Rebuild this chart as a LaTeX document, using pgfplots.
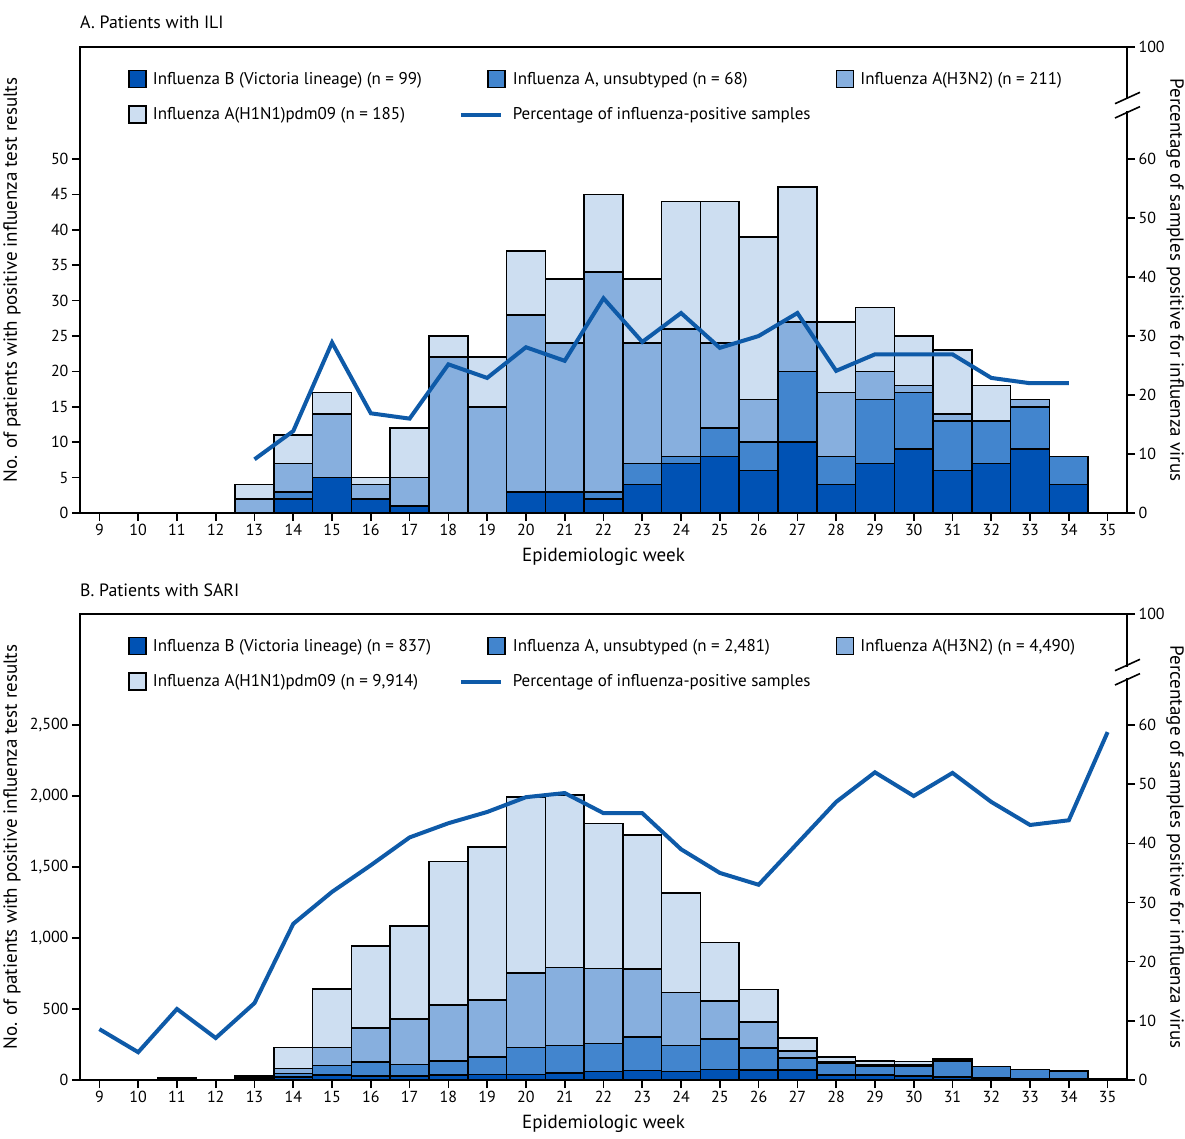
\documentclass[border=0pt]{standalone}
\usepackage{pgfplots}
\pgfplotsset{compat=1.18}
\usepackage{pgfplotstable}
\usepackage{fontspec}
\setmainfont{PT Sans}

\definecolor{cB}{HTML}{0052B4}
\definecolor{cU}{HTML}{4285CE}
\definecolor{cH}{HTML}{87AFDE}
\definecolor{cP}{HTML}{CDDEF1}
\definecolor{cL}{HTML}{0E5AA8}

\pgfplotstableread{
week B U H3 H1 pct
13 0 0 2 2 9.1
14 2 1 4 4 13.9
15 5 0 9 3 28.9
16 2 0 2 1 16.9
17 1 0 4 7 16.0
18 0 0 22 3 25.2
19 0 0 15 7 22.9
20 3 0 25 9 28.1
21 3 0 21 9 25.8
22 2 1 31 11 36.4
23 4 3 17 9 29.0
24 7 1 18 18 33.9
25 8 4 12 20 28.0
26 6 4 6 23 30.0
27 10 10 7 19 33.9
28 4 4 9 10 24.1
29 7 9 4 9 26.9
30 9 8 1 7 26.9
31 6 7 1 9 26.9
32 7 6 0 5 22.9
33 9 6 1 0 22.0
34 4 4 0 0 22.0
}\ili

\pgfplotstableread{
week B U H3 H1 pct
9 2 1 0 0 8.6
10 1 1 0 0 4.7
11 10 4 1 1 12.0
12 2 1 0 0 7.1
13 12 8 5 5 13.0
14 20 25 35 150 26.4
15 35 66 129 411 31.8
16 30 95 243 575 36.3
17 30 78 321 657 41.0
18 35 99 396 1010 43.4
19 40 124 401 1078 45.3
20 40 190 523 1239 47.8
21 49 193 551 1213 48.5
22 61 197 526 1023 45.1
23 66 239 476 946 45.1
24 61 181 375 699 39.0
25 73 216 269 411 35.0
26 70 155 183 228 33.0
27 70 83 51 90 40.0
28 35 82 10 37 47.0
29 34 65 5 30 52.0
30 30 69 5 25 48.0
31 23 106 5 15 51.9
32 15 79 0 0 47.0
33 10 65 0 0 43.1
34 7 56 0 0 43.9
35 3 4 0 0 58.8
}\sari

\pgfplotsset{
  barbox/.style={legend image code/.code={%
      \path (-27pt,-8.5pt) (21pt,8.5pt);
      \draw[##1,draw=black,line width=1.5pt] (0pt,-8.5pt) rectangle (17pt,8.5pt);}},
  linebox/.style={legend image code/.code={%
      \path (-27pt,-8.5pt) (21pt,8.5pt);
      \draw[##1] (-27pt,0pt) -- (13pt,0pt);}},
  panel/.style={
    scale only axis, width=1047pt, height=466pt,
    xmin=8.5, xmax=35.5,
    axis line style={line width=1.6pt},
    every tick/.style={line width=1.6pt, black},
    major tick length=8pt,
    tick align=outside,
    tick label style={font=\fontsize{16}{19}\selectfont},
    /pgf/number format/assume math mode=true,
    label style={font=\fontsize{19}{22}\selectfont},
  },
  leftpanel/.style={panel,
    xtick={9,...,35}, xtick pos=bottom, ytick pos=left,
    ybar stacked, bar width=1, bar shift=0pt,
    xlabel={Epidemiologic week},
    x label style={at={(axis description cs:0.5,-0.0944)}, anchor=center},
    ylabel={No. of patients with positive influenza test results},
    y label style={at={(axis description cs:-0.0649,0.5)}, anchor=center},
    legend columns=3, legend cell align=left,
    legend style={at={(axis description cs:0.0201,0.952)}, anchor=north west,
       draw=none, fill=none, inner sep=0pt,
       font=\fontsize{17}{20}\selectfont,
       /tikz/column sep=0pt, /tikz/row sep=16pt,
       nodes={inner sep=2pt}},
  },
  rightpanel/.style={panel,
    axis x line=none, axis y line*=right,
    ylabel={Percentage of samples positive for influenza virus},
    y label style={at={(axis description cs:1.0459,0.5)}, anchor=center, rotate=180},
  },
  bars/.style={draw=black, line width=1.6pt, barbox},
}

\begin{document}
\begin{tikzpicture}
\path[use as bounding box] (0pt,0pt) rectangle (1185pt,-1139pt);

% ---------------- Panel A ----------------
\node[anchor=west, inner sep=0pt, font=\fontsize{17.8}{21}\selectfont] at (80pt,-22pt) {A. Patients with ILI};
\begin{axis}[leftpanel, at={(80pt,-513pt)}, anchor=south west,
  ymin=0, ymax=65.8, ytick={0,5,...,50}]
\addplot[bars, fill=cB] table[x=week,y=B] {\ili};
\addlegendentry{\makebox[304pt][l]{Influenza B (Victoria lineage) (n = 99)}}
\addplot[bars, fill=cU] table[x=week,y=U] {\ili};
\addlegendentry{\makebox[294pt][l]{Influenza A, unsubtyped (n = 68)}}
\addplot[bars, fill=cH] table[x=week,y=H3] {\ili};
\addlegendentry{Influenza A(H3N2) (n = 211)}
\addplot[bars, fill=cP] table[x=week,y=H1] {\ili};
\addlegendentry{\makebox[304pt][l]{Influenza A(H1N1)pdm09 (n = 185)}}
\addlegendimage{cL, line width=4pt, linebox}
\addlegendentry{\makebox[294pt][l]{Percentage of influenza-positive samples}}
\end{axis}
\begin{axis}[rightpanel, at={(80pt,-513pt)}, anchor=south west,
  ymin=0, ymax=79.0, ytick={0,10,...,60,79}, yticklabels={0,10,20,30,40,50,60,100}]
\addplot[cL, line width=4pt, no markers] table[x=week,y=pct] {\ili};
\end{axis}
% axis break
\fill[white] (1122pt,-99.5pt) rectangle (1132pt,-111.2pt);
\draw[line width=1.6pt] (1115pt,-103.7pt) -- (1140pt,-92.3pt);
\draw[line width=1.6pt] (1115pt,-118pt) -- (1140pt,-106.6pt);

% ---------------- Panel B ----------------
\node[anchor=west, inner sep=0pt, font=\fontsize{17.8}{21}\selectfont] at (80pt,-590pt) {B. Patients with SARI};
\begin{axis}[leftpanel, at={(80pt,-1080pt)}, anchor=south west,
  ymin=0, ymax=3281.7, ytick={0,500,...,2500}, scaled y ticks=false,
  yticklabel style={/pgf/number format/.cd, 1000 sep={,}}]
\addplot[bars, fill=cB] table[x=week,y=B] {\sari};
\addlegendentry{\makebox[304pt][l]{Influenza B (Victoria lineage) (n = 837)}}
\addplot[bars, fill=cU] table[x=week,y=U] {\sari};
\addlegendentry{\makebox[294pt][l]{Influenza A, unsubtyped (n = 2,481)}}
\addplot[bars, fill=cH] table[x=week,y=H3] {\sari};
\addlegendentry{Influenza A(H3N2) (n = 4,490)}
\addplot[bars, fill=cP] table[x=week,y=H1] {\sari};
\addlegendentry{\makebox[304pt][l]{Influenza A(H1N1)pdm09 (n = 9,914)}}
\addlegendimage{cL, line width=4pt, linebox}
\addlegendentry{\makebox[294pt][l]{Percentage of influenza-positive samples}}
\end{axis}
\begin{axis}[rightpanel, at={(80pt,-1080pt)}, anchor=south west,
  ymin=0, ymax=78.76, ytick={0,10,...,60,78.76}, yticklabels={0,10,20,30,40,50,60,100}]
\addplot[cL, line width=4pt, no markers] table[x=week,y=pct] {\sari};
\end{axis}
\fill[white] (1122pt,-666.5pt) rectangle (1132pt,-678.2pt);
\draw[line width=1.6pt] (1115pt,-670.7pt) -- (1140pt,-659.3pt);
\draw[line width=1.6pt] (1115pt,-685pt) -- (1140pt,-673.6pt);
\end{tikzpicture}
\end{document}
